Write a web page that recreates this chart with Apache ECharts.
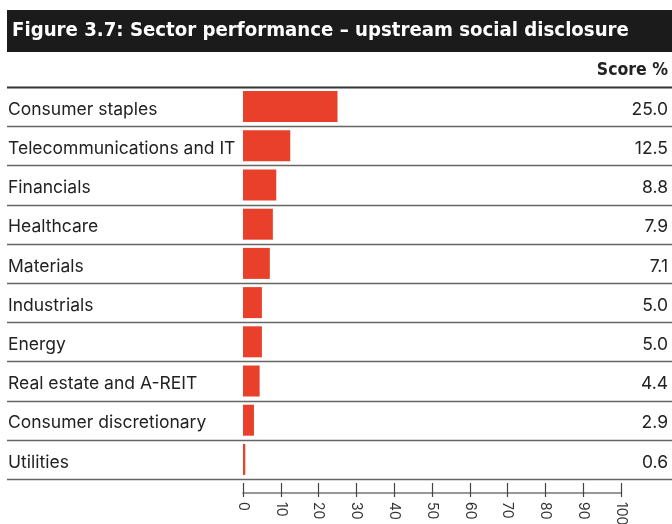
<!DOCTYPE html>
<html>
<head>
<meta charset="utf-8">
<script src="https://cdn.jsdelivr.net/npm/echarts@6/dist/echarts.min.js"></script>
<style>
  html, body { margin: 0; padding: 0; background: #fff; }
  #chart { width: 672px; height: 524px; }
</style>
</head>
<body>
<div id="chart"></div>
<script>
// Sector scores for upstream social disclosure (%)
const sectors = [
  'Consumer staples',
  'Telecommunications and IT',
  'Financials',
  'Healthcare',
  'Materials',
  'Industrials',
  'Energy',
  'Real estate and A-REIT',
  'Consumer discretionary',
  'Utilities'
];
const scores = [25.0, 12.5, 8.8, 7.9, 7.1, 5.0, 5.0, 4.4, 2.9, 0.6];
const axisTicks = [0, 10, 20, 30, 40, 50, 60, 70, 80, 90, 100];

const titleText = 'Figure 3.7: Sector performance \u2013 upstream social disclosure';
const scoreHeader = 'Score %';

const FONT = 'Inter, "Noto Sans", sans-serif';
const TITLE_FONT = '"DejaVu Sans Condensed", "DejaVu Sans", sans-serif';

const chart = echarts.init(document.getElementById('chart'), null, { renderer: 'canvas' });

const option = {
  animation: false,
  backgroundColor: '#ffffff',
  grid: {
    left: 243, right: 51, top: 87, height: 392,
    containLabel: false,
    outerBoundsMode: 'none'
  },
  xAxis: [
    {
      type: 'value',
      min: axisTicks[0],
      max: axisTicks[axisTicks.length - 1],
      interval: axisTicks[1] - axisTicks[0],
      position: 'bottom',
      offset: 14,
      splitLine: { show: false },
      axisLine: { show: true, lineStyle: { color: '#777', width: 1.5 } },
      axisTick: { show: true, inside: true, length: 10, lineStyle: { color: '#444', width: 1.2 } },
      axisLabel: {
        show: true,
        rotate: -90,
        margin: 9,
        fontFamily: FONT,
        fontSize: 14,
        color: '#333'
      }
    },
    {
      type: 'value',
      min: axisTicks[0],
      max: axisTicks[axisTicks.length - 1],
      interval: axisTicks[1] - axisTicks[0],
      position: 'bottom',
      offset: 14,
      splitLine: { show: false },
      axisLine: { show: false },
      axisTick: { show: true, inside: false, length: 4, lineStyle: { color: '#444', width: 1.2 } },
      axisLabel: { show: false }
    }
  ],
  yAxis: [
    {
      type: 'category',
      data: sectors,
      inverse: true,
      position: 'left',
      axisLine: { show: false },
      axisTick: { show: false },
      splitLine: { show: false },
      axisLabel: {
        align: 'left',
        verticalAlign: 'top',
        lineHeight: 6,
        margin: 235,
        fontFamily: FONT,
        fontSize: 17.5,
        color: '#222'
      }
    },
    {
      type: 'category',
      data: sectors,
      inverse: true,
      position: 'right',
      axisLine: { show: false },
      axisTick: { show: false },
      splitLine: { show: false },
      axisLabel: {
        align: 'right',
        verticalAlign: 'top',
        lineHeight: 6,
        margin: 47,
        fontFamily: FONT,
        fontSize: 17.5,
        color: '#222',
        formatter: function (v, i) { return scores[i].toFixed(1); }
      }
    }
  ],
  series: [
    {
      type: 'bar',
      data: scores,
      xAxisIndex: 0,
      yAxisIndex: 0,
      barWidth: 31,
      itemStyle: { color: '#e8402a' },
      silent: true
    }
  ]
};

chart.setOption(option);

// Row separators and header elements spanning the full width
const centers = sectors.map(function (s) {
  return chart.convertToPixel({ yAxisIndex: 0 }, s);
});
const band = centers.length > 1 ? centers[1] - centers[0] : 39;
const bounds = [centers[0] - band / 2];
for (let i = 0; i < centers.length; i++) bounds.push(centers[i] + band / 2);

const graphics = [
  {
    type: 'rect',
    shape: { x: 7, y: 10, width: 665, height: 42 },
    style: { fill: '#1b1b1b' },
    z: 10
  },
  {
    type: 'text',
    x: 12, y: 31,
    style: {
      text: titleText,
      fill: '#ffffff',
      font: 'bold 20.2px ' + TITLE_FONT,
      textVerticalAlign: 'middle',
      verticalAlign: 'middle'
    },
    z: 11
  },
  {
    type: 'text',
    x: 668, y: 70,
    style: {
      text: scoreHeader,
      fill: '#222',
      font: 'bold 17.5px ' + TITLE_FONT,
      align: 'right',
      textAlign: 'right',
      verticalAlign: 'middle',
      textVerticalAlign: 'middle'
    },
    z: 11
  }
];
bounds.forEach(function (y, k) {
  const yy = Math.round(y) + 0.5;
  graphics.push({
    type: 'line',
    shape: { x1: 7, y1: yy, x2: 672, y2: yy },
    style: { stroke: k === 0 ? '#333' : '#666', lineWidth: k === 0 ? 2 : 1.5 },
    z: 5,
    silent: true
  });
});

chart.setOption({ graphic: graphics });
</script>
</body>
</html>
